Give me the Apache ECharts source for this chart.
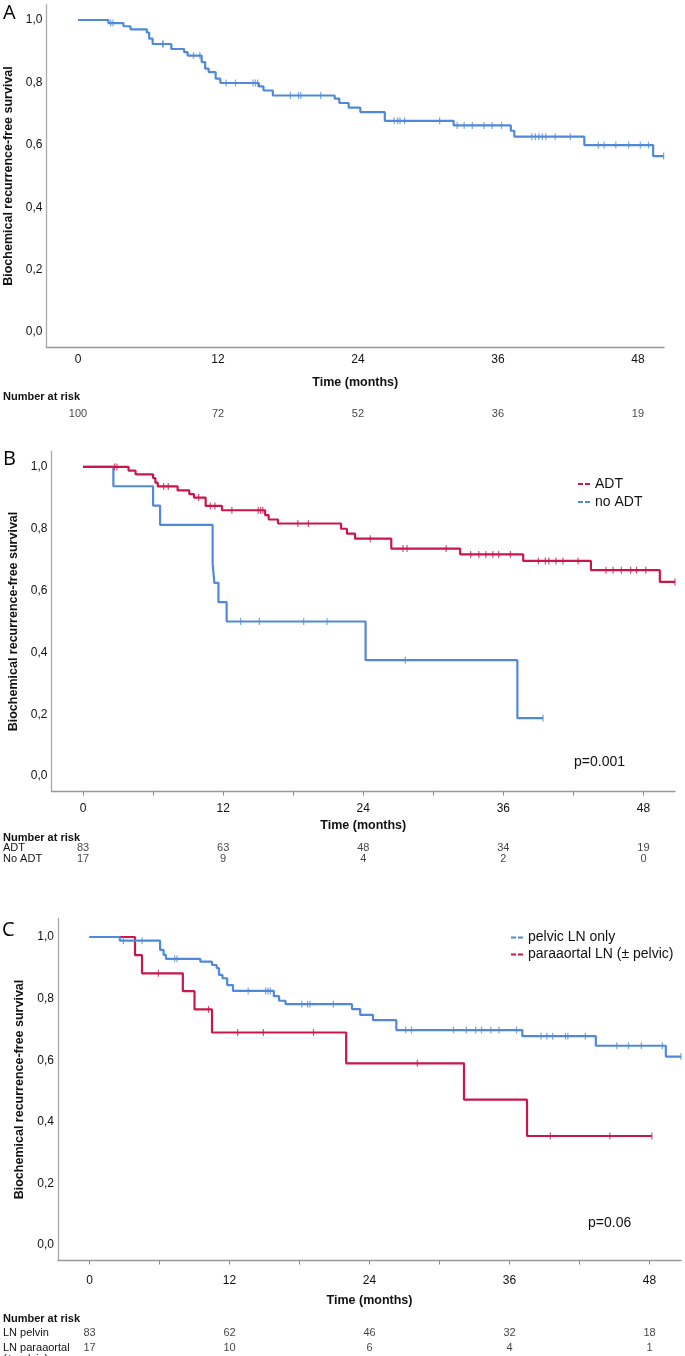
<!DOCTYPE html>
<html>
<head>
<meta charset="utf-8">
<script src="https://cdn.jsdelivr.net/npm/echarts@6/dist/echarts.min.js"></script>
<style>
  html, body { margin: 0; padding: 0; background: #fff; }
  #chart { width: 685px; height: 1356px; }
</style>
</head>
<body>
<div id="chart"></div>
<script>
// ---- data ----
var riskTicks = [0, 12, 24, 36, 48];
var yTicks = [0, 0.2, 0.4, 0.6, 0.8, 1.0];
var minorTicks = [0, 6, 12, 18, 24, 30, 36, 42, 48];

// A: all patients
var aTimes = [2.6, 3.9, 4.5, 5.9, 6.1, 6.4, 8.0, 9.1, 9.4, 10.6, 10.9, 11.2, 11.8, 12.2, 15.5, 15.9, 16.7, 22.0, 22.4, 23.2, 24.2, 26.3, 32.2, 37.1, 37.4, 43.4, 49.3];
var aSurv = [0.99, 0.98, 0.97, 0.96, 0.94, 0.923, 0.907, 0.897, 0.886, 0.865, 0.844, 0.833, 0.812, 0.798, 0.787, 0.774, 0.758, 0.748, 0.734, 0.719, 0.705, 0.677, 0.662, 0.645, 0.626, 0.599, 0.564];
var aCens = [2.8, 3.0, 7.25, 7.3, 9.9, 10.45, 12.7, 13.5, 15.0, 15.2, 15.4, 18.2, 18.9, 19.1, 20.8, 27.1, 27.4, 27.6, 28.0, 31.0, 32.5, 33.1, 33.8, 34.8, 35.5, 36.3, 38.9, 39.2, 39.5, 39.8, 40.1, 40.9, 42.2, 44.6, 45.1, 46.1, 47.2, 48.2, 48.9, 50.2];
var aRisk = [100, 72, 52, 36, 19];

// B: ADT / no ADT
var bAdtTimes = [3.9, 4.5, 6.0, 6.2, 6.4, 8.1, 9.1, 9.5, 10.5, 11.9, 15.6, 15.9, 16.7, 22.1, 22.6, 23.3, 26.4, 32.3, 37.7, 43.5, 49.4];
var bAdtSurv = [0.988, 0.976, 0.964, 0.949, 0.937, 0.924, 0.912, 0.901, 0.874, 0.86, 0.844, 0.83, 0.817, 0.80, 0.784, 0.768, 0.736, 0.717, 0.696, 0.666, 0.628];
var bAdtCens = [2.7, 2.9, 6.9, 7.3, 9.9, 10.9, 11.3, 12.75, 15.0, 15.2, 15.4, 18.4, 19.3, 24.6, 27.4, 27.75, 31.1, 33.2, 33.9, 34.5, 35.1, 35.6, 36.6, 39.0, 39.6, 39.9, 40.5, 41.1, 42.4, 44.8, 45.4, 46.1, 46.9, 47.4, 48.2, 50.7];
var bNoTimes = [2.6, 6.0, 6.6, 11.1, 11.25, 11.6, 12.3, 24.2, 37.2];
var bNoSurv = [0.9375, 0.875, 0.8125, 0.6875, 0.625, 0.5625, 0.5, 0.375, 0.1875];
var bNoCens = [13.5, 15.1, 18.9, 20.9, 27.6, 39.4];
var bRiskAdt = [83, 63, 48, 34, 19];
var bRiskNo = [17, 9, 4, 2, 0];

// C: pelvic only / paraaortal
var cPelTimes = [2.6, 6.05, 6.35, 6.55, 9.5, 10.5, 10.9, 11.1, 11.4, 11.8, 12.3, 15.8, 16.25, 16.8, 22.5, 23.2, 24.3, 26.3, 37.1, 43.4, 49.4];
var cPelSurv = [0.988, 0.958, 0.942, 0.929, 0.92, 0.909, 0.899, 0.877, 0.866, 0.844, 0.825, 0.808, 0.793, 0.782, 0.766, 0.747, 0.73, 0.698, 0.678, 0.647, 0.612];
var cPelCens = [2.9, 4.5, 7.3, 7.5, 13.6, 15.1, 15.3, 15.5, 18.2, 18.7, 18.9, 20.9, 27.1, 27.6, 31.2, 32.3, 33.1, 33.6, 34.4, 35.1, 36.6, 38.7, 39.2, 39.7, 40.8, 41.0, 42.5, 45.2, 46.2, 47.3, 49.1, 50.7];
var cParTimes = [3.9, 4.5, 8.0, 9.0, 10.5, 22.0, 32.1, 37.5];
var cParSurv = [0.941, 0.882, 0.824, 0.765, 0.69, 0.59, 0.472, 0.354];
var cParCens = [5.9, 10.2, 12.7, 14.9, 19.2, 28.1, 39.5, 44.6, 48.2];
var cRiskPel = [83, 62, 46, 32, 18];
var cRiskPar = [17, 10, 6, 4, 1];

var BLUE = '#5089d8';
var RED = '#c8174a';
var NARROW = "'Liberation Sans Narrow', 'Liberation Sans', sans-serif";
var SANS = "'Liberation Sans', Arial, sans-serif";

// step line points: start at (0,1), end at last follow-up
function kmLine(times, surv, end) {
    var pts = [[0, 1]];
    for (var i = 0; i < times.length; i++) pts.push([times[i], surv[i]]);
    pts.push([end, surv[surv.length - 1]]);
    return pts;
}

function survAt(times, surv, t) {
    var s = 1;
    for (var i = 0; i < times.length; i++) {
        if (times[i] <= t) s = surv[i];
    }
    return s;
}

function censorPts(times, surv, cens) {
    return cens.map(function(c) { return [c, survAt(times, surv, c)]; });
}

// layout per panel (pixels)
var panels = [
    { left: 46.5, width: 617.5, top: 4.4, height: 343.2, xMax: 50.23, yMax: 1.05,
      lblMargin: 6, ticks: false, nameGap: 28, yNameGap: 27,
      tTop: 383, tHeight: 34 },
    { left: 51.5, width: 623.5, top: 451.5, height: 340, xMax: 50.7, yMax: 1.05,
      lblMargin: 11, ticks: true, nameGap: 28, yNameGap: 31,
      tTop: 827, tHeight: 31.5 },
    { left: 58, width: 623, top: 918.5, height: 342, xMax: 50.7, yMax: 1.06,
      lblMargin: 14, ticks: true, nameGap: 34, yNameGap: 31,
      tTop: 1306, tHeight: 43.5 }
];

var tableRows = [
    ['Number at risk', ' '],
    ['Number at risk', 'ADT', 'No ADT'],
    ['Number at risk', 'LN pelvin', 'LN paraaortal\n(± pelvin)']
];

var grids = [], xAxes = [], yAxes = [];
panels.forEach(function(p, i) {
    grids.push({ left: p.left, top: p.top, width: p.width, height: p.height, outerBoundsMode: 'none' });
    xAxes.push({
        type: 'value', gridIndex: i, min: -2.7, max: p.xMax,
        name: 'Time (months)', nameLocation: 'middle', nameGap: p.nameGap,
        nameTextStyle: { fontFamily: SANS, fontWeight: 'bold', fontSize: 12.5, color: '#111' },
        axisLine: { show: true, onZero: false, lineStyle: { color: '#999', width: 1.4 } },
        axisTick: { show: p.ticks, customValues: minorTicks, length: 4, lineStyle: { color: '#888' } },
        axisLabel: { customValues: riskTicks, margin: p.lblMargin, fontFamily: NARROW, fontSize: 12, color: '#111' },
        splitLine: { show: false }
    });
    yAxes.push({
        type: 'value', gridIndex: i, min: -0.05, max: p.yMax,
        name: 'Biochemical recurrence-free survival', nameLocation: 'middle', nameRotate: 90, nameGap: p.yNameGap,
        nameTextStyle: { fontFamily: SANS, fontWeight: 'bold', fontSize: 12.5, color: '#111' },
        axisLine: { show: true, onZero: false, lineStyle: { color: '#aaa', width: 1.3 } },
        axisTick: { show: false },
        axisLabel: {
            customValues: yTicks, margin: 4, fontFamily: NARROW, fontSize: 12, color: '#111',
            formatter: function(v) { return v.toFixed(1).replace('.', ','); }
        },
        splitLine: { show: false }
    });
});

// number-at-risk tables: one grid each, same x scale as the plot above
panels.forEach(function(p, i) {
    var gi = grids.length;
    grids.push({ left: p.left, top: p.tTop, width: p.width, height: p.tHeight, outerBoundsMode: 'none' });
    xAxes.push({ type: 'value', gridIndex: gi, min: -2.7, max: p.xMax, show: false });
    yAxes.push({
        type: 'category', gridIndex: gi, inverse: true, data: tableRows[i],
        axisLine: { show: false }, axisTick: { show: false },
        axisLabel: {
            interval: 0, align: 'left', margin: p.left - 3, verticalAlign: 'top',
            fontFamily: SANS, fontSize: 11, lineHeight: 11, color: '#111',
            formatter: function(v) { return v === 'Number at risk' ? '{h|' + v + '}' : v; },
            rich: { h: { fontFamily: SANS, fontSize: 11, fontWeight: 'bold', color: '#111' } }
        }
    });
});

function kmSeries(name, times, surv, cens, color, gi) {
    var end = cens[cens.length - 1];
    return [{
        name: name, type: 'line', step: 'end', xAxisIndex: gi, yAxisIndex: gi,
        data: kmLine(times, surv, end), showSymbol: false, symbol: 'none',
        lineStyle: { color: color, width: 2.2 }, itemStyle: { color: color }, z: 3
    }, {
        name: name + ' censored', type: 'scatter', xAxisIndex: gi, yAxisIndex: gi,
        data: censorPts(times, surv, cens), symbol: 'rect', symbolSize: [1.2, 7],
        itemStyle: { color: color, opacity: 0.75 }, z: 4
    }];
}

function riskSeries(row, vals, gi) {
    return {
        type: 'scatter', xAxisIndex: gi, yAxisIndex: gi, symbolSize: 1,
        itemStyle: { color: 'rgba(0,0,0,0)' },
        data: riskTicks.map(function(t, k) { return [t, row, vals[k]]; }),
        label: {
            show: true, position: 'inside', verticalAlign: 'top', lineHeight: 11,
            fontFamily: SANS, fontSize: 11, color: '#111',
            formatter: function(q) { return String(q.value[2]); }
        }
    };
}

var series = []
    .concat(kmSeries('all patients', aTimes, aSurv, aCens, BLUE, 0))
    .concat(kmSeries('no ADT', bNoTimes, bNoSurv, bNoCens, BLUE, 1))
    .concat(kmSeries('ADT', bAdtTimes, bAdtSurv, bAdtCens, RED, 1))
    .concat(kmSeries('paraaortal LN (± pelvic)', cParTimes, cParSurv, cParCens, RED, 2))
    .concat(kmSeries('pelvic LN only', cPelTimes, cPelSurv, cPelCens, BLUE, 2));
series.push(riskSeries(' ', aRisk, 3));
series.push(riskSeries('ADT', bRiskAdt, 4));
series.push(riskSeries('No ADT', bRiskNo, 4));
series.push(riskSeries('LN pelvin', cRiskPel, 5));
series.push(riskSeries('LN paraaortal\n(± pelvin)', cRiskPar, 5));

var dashIcon = 'path://M0,0h5v2h-5z M7,0h5v2h-5z';

var option = {
    animation: false,
    backgroundColor: '#fff',
    grid: grids,
    xAxis: xAxes,
    yAxis: yAxes,
    legend: [{
        data: ['ADT', 'no ADT'], orient: 'vertical', left: 573, top: 472,
        icon: dashIcon, itemWidth: 12, itemHeight: 2, itemGap: 4, selectedMode: false,
        textStyle: { fontFamily: NARROW, fontSize: 14, lineHeight: 14, color: '#111' }
    }, {
        data: ['pelvic LN only', 'paraaortal LN (± pelvic)'], orient: 'vertical', left: 506, top: 925,
        icon: dashIcon, itemWidth: 12, itemHeight: 2, itemGap: 2, selectedMode: false,
        textStyle: { fontFamily: SANS, fontSize: 14, lineHeight: 15, color: '#111' }
    }],
    graphic: [
        { type: 'text', left: 3, top: 3, style: { text: 'A', font: "20px 'Open Sans', sans-serif", fill: '#000' } },
        { type: 'text', left: 3, top: 449, style: { text: 'B', font: "20px 'Open Sans', sans-serif", fill: '#000' } },
        { type: 'text', left: 2, top: 920, style: { text: 'C', font: "20px 'Open Sans', sans-serif", fill: '#000' } },
        { type: 'text', left: 574, top: 755, style: { text: 'p=0.001', font: "14px 'Liberation Sans', sans-serif", fill: '#111' } },
        { type: 'text', left: 588, top: 1216, style: { text: 'p=0.06', font: "14px 'Liberation Sans', sans-serif", fill: '#111' } }
    ],
    series: series
};

var chart = echarts.init(document.getElementById('chart'), null, { renderer: 'canvas' });
chart.setOption(option);
</script>
</body>
</html>
